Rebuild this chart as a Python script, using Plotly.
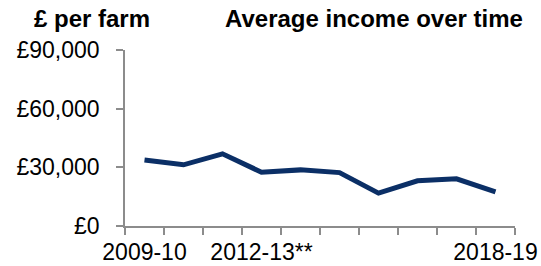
import plotly.graph_objects as go

categories = ["2009-10", "2010-11", "2011-12", "2012-13**", "2013-14",
              "2014-15", "2015-16", "2016-17", "2017-18", "2018-19"]
income = [33800, 31300, 36900, 27500, 28700, 27300, 16800, 23100, 24100, 17400]
shown_labels = ["2009-10", "2012-13**", "2018-19"]
y_ticks = [0, 30000, 60000, 90000]
y_ticktext = ["£0", "£30,000", "£60,000", "£90,000"]

FONT = "Liberation Sans, Arial, sans-serif"
W, H = 541, 266
L, R, T, B = 125, 26, 50, 40
PW, PH = W - L - R, H - T - B

fig = go.Figure()
fig.add_trace(go.Scatter(
    x=categories, y=income, mode="lines",
    line=dict(color="#0b2f66", width=5),
    hoverinfo="skip", showlegend=False,
))

fig.update_layout(
    width=W, height=H,
    margin=dict(l=L, r=R, t=T, b=B, pad=0, autoexpand=False),
    paper_bgcolor="white", plot_bgcolor="white",
    font=dict(family=FONT, size=23, color="#000000"),
    hovermode=False,
    xaxis=dict(
        type="category",
        range=[-0.5, len(categories) - 0.5],
        tickmode="array",
        tickvals=categories,
        ticktext=[c if c in shown_labels else "" for c in categories],
        tickson="boundaries",
        ticks="outside", ticklen=7, tickcolor="#8c8c8c", tickwidth=1.5,
        showline=True, linecolor="#8c8c8c", linewidth=1.5,
        showgrid=False, zeroline=False,
        tickfont=dict(family=FONT, size=23),
        tickangle=0, automargin=False, ticklabelstandoff=5,
    ),
    yaxis=dict(
        range=[0, 90000],
        tickmode="array", tickvals=y_ticks, ticktext=y_ticktext,
        ticks="outside", ticklen=7, tickcolor="#8c8c8c", tickwidth=1.5,
        showline=True, linecolor="#8c8c8c", linewidth=1.5,
        showgrid=False, zeroline=False,
        tickfont=dict(family=FONT, size=23),
        ticklabelstandoff=12, automargin=False,
    ),
    annotations=[
        dict(text="<b>£ per farm</b>", xref="paper", yref="paper",
             x=(32 - L) / PW, y=1 + (T - 19) / PH,
             xanchor="left", yanchor="middle",
             showarrow=False, font=dict(family=FONT, size=24)),
        dict(text="<b>Average income over time</b>", xref="paper", yref="paper",
             x=(223 - L) / PW, y=1 + (T - 19) / PH,
             xanchor="left", yanchor="middle",
             showarrow=False, font=dict(family=FONT, size=24)),
    ],
)

fig.write_html("out.html", config={"displayModeBar": False},
               post_script="document.body.style.margin='0px';")
